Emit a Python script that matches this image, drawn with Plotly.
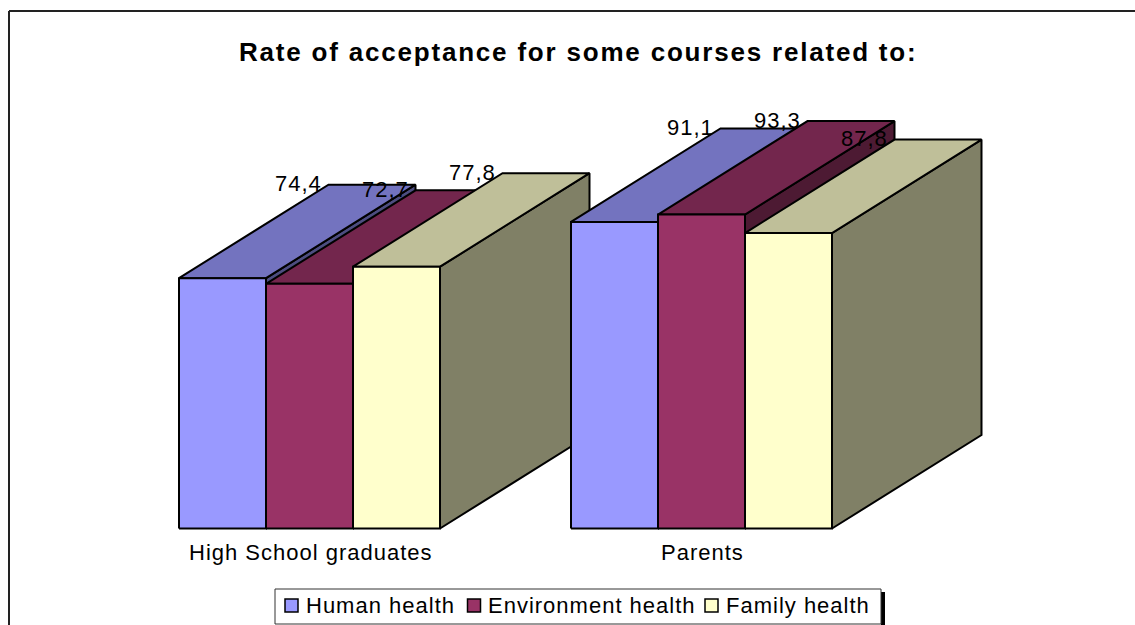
import plotly.graph_objects as go

# Data
categories = ["High School graduates", "Parents"]
series_names = ["Human health", "Environment health", "Family health"]
human_health = [74.4, 91.1]
environment_health = [72.7, 93.3]
family_health = [77.8, 87.8]
value_labels = [["74,4", "91,1"], ["72,7", "93,3"], ["77,8", "87,8"]]
series_values = [human_health, environment_health, family_health]

front_colors = ["#9999FF", "#993366", "#FFFFCC"]
top_colors = ["#7373BF", "#73264D", "#BFBF99"]
side_colors = ["#4D4D80", "#4D1A33", "#808066"]

W, H = 1135, 625
BASE_PX = 528.5
PX_PER_VALUE = 3.365
CAT_PX = 392.0
CAT0_PX = 309.5
BAR_PX = 87.0
DX_PX = 149.5
DY_PX = 93.5

bar_w = BAR_PX / CAT_PX
dx = DX_PX / CAT_PX
dy = DY_PX / PX_PER_VALUE
x_range = [-CAT0_PX / CAT_PX, (W - CAT0_PX) / CAT_PX]
y_range = [(BASE_PX - H) / PX_PER_VALUE, BASE_PX / PX_PER_VALUE]

fig = go.Figure()


def spaced(text, px):
    return f'<span style="letter-spacing:{px}px">{text}</span>'


def face(xs, ys, color, name):
    fig.add_trace(go.Scatter(
        x=xs + xs[:1], y=ys + ys[:1], mode="lines", fill="toself", fillcolor=color,
        line=dict(color="#000000", width=2), name=name, showlegend=False, hoverinfo="name",
    ))


annotations = []
for c in range(len(categories)):
    for s, values in enumerate(series_values):
        v = values[c]
        x0 = c + (s - 1.5) * bar_w
        x1 = x0 + bar_w
        name = series_names[s]
        # side, top, front, painted back to front
        face([x1, x1 + dx, x1 + dx, x1], [0, dy, v + dy, v], side_colors[s], name)
        face([x0, x1, x1 + dx, x0 + dx], [v, v, v + dy, v + dy], top_colors[s], name)
        face([x0, x1, x1, x0], [0, 0, v, v], front_colors[s], name)

for c in range(len(categories)):
    for s, values in enumerate(series_values):
        v = values[c]
        x0 = c + (s - 1.5) * bar_w
        annotations.append(dict(
            x=x0 + dx - 30.5 / CAT_PX, y=v + dy + 1 / PX_PER_VALUE, xref="x", yref="y",
            text=spaced(value_labels[s][c], 1), showarrow=False, xanchor="center", yanchor="middle",
            font=dict(family="Liberation Sans", size=22, color="#000000"),
        ))

for c, label in enumerate(categories):
    annotations.append(dict(
        x=c + 1 / CAT_PX, y=-(552.5 - BASE_PX) / PX_PER_VALUE, xref="x", yref="y",
        text=spaced(label, 1), showarrow=False,
        xanchor="center", yanchor="middle",
        font=dict(family="Liberation Sans", size=22, color="#000000"),
    ))

annotations.append(dict(
    x=577.5 / W, y=1 - 51.5 / H, xref="paper", yref="paper",
    text=spaced("Rate of acceptance for some courses related to:", 1.8), showarrow=False,
    xanchor="center", yanchor="middle",
    font=dict(family="Liberation Sans", size=26, weight=700, color="#000000"),
))


def px_x(p):
    return p / W


def px_y(p):
    return 1 - p / H


shapes = [
    dict(type="line", xref="paper", yref="paper", x0=px_x(9), x1=1, y0=px_y(11), y1=px_y(11),
         line=dict(color="#222222", width=2)),
    dict(type="line", xref="paper", yref="paper", x0=px_x(9), x1=px_x(9), y0=px_y(11), y1=0,
         line=dict(color="#222222", width=2)),
    dict(type="rect", xref="paper", yref="paper", x0=px_x(881), x1=px_x(885), y0=px_y(592), y1=0,
         fillcolor="#000000", line=dict(width=0)),
    dict(type="rect", xref="paper", yref="paper", x0=px_x(275), x1=px_x(881), y0=px_y(589), y1=px_y(624),
         fillcolor="#FFFFFF", line=dict(color="#333333", width=1)),
]

legend_marks = [285, 467.5, 705]
legend_text = [303.5, 485.5, 723.5]
for s, name in enumerate(series_names):
    shapes.append(dict(type="rect", xref="paper", yref="paper", x0=px_x(legend_marks[s]),
                       x1=px_x(legend_marks[s] + 13), y0=px_y(599), y1=px_y(612),
                       fillcolor=front_colors[s], line=dict(color="#000000", width=1.5)))
    annotations.append(dict(
        x=px_x(legend_text[s]), y=px_y(605), xref="paper", yref="paper",
        text=spaced(name, 1), showarrow=False,
        xanchor="left", yanchor="middle",
        font=dict(family="Liberation Sans", size=22, color="#000000"),
    ))

fig.update_layout(
    width=W, height=H, margin=dict(l=0, r=0, t=0, b=0),
    paper_bgcolor="#FFFFFF", plot_bgcolor="#FFFFFF", showlegend=False,
    xaxis=dict(range=x_range, visible=False, fixedrange=True),
    yaxis=dict(range=y_range, visible=False, fixedrange=True),
    annotations=annotations, shapes=shapes,
)
fig.write_html(
    "out.html", config={"displayModeBar": False},
    post_script="document.body.style.margin='0';document.body.style.overflow='hidden';",
)
